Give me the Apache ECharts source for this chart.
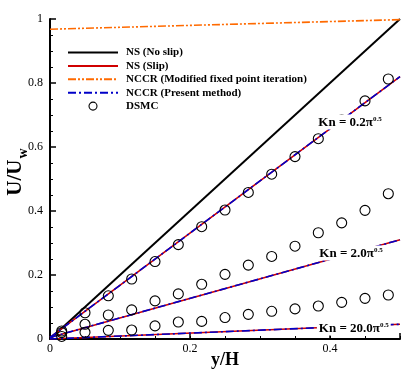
<!DOCTYPE html>
<html>
<head>
<meta charset="utf-8">
<script src="https://cdn.jsdelivr.net/npm/echarts@6/dist/echarts.min.js"></script>
<style>
html,body{margin:0;padding:0;background:#fff;}
#chart{width:415px;height:369px;}
</style>
</head>
<body>
<div id="chart"></div>
<script>
// ---- data ----
const lineX = [0, 0.5];
const nsNoSlip = [0, 1];
const nccrModified = [0.968, 0.998];
const nsSlipKn02 = [0.005, 0.82];
const nsSlipKn2 = [0.005, 0.31];
const nsSlipKn20 = [0.0, 0.046];
const nccrPresentKn02 = [0.005, 0.82];
const nccrPresentKn2 = [0.005, 0.31];
const nccrPresentKn20 = [0.0, 0.046];

const dsmcX = [0.0167, 0.05, 0.0833, 0.1167, 0.15, 0.1833, 0.2167, 0.25, 0.2833, 0.3167, 0.35, 0.3833, 0.4167, 0.45, 0.4833];
const dsmcKn02 = [0.025, 0.082, 0.135, 0.1875, 0.242, 0.295, 0.351, 0.403, 0.458, 0.515, 0.570, 0.626, 0.685, 0.744, 0.8125];
const dsmcKn2 = [0.02, 0.046, 0.075, 0.091, 0.119, 0.141, 0.171, 0.202, 0.231, 0.258, 0.29, 0.332, 0.363, 0.402, 0.454];
const dsmcKn20 = [0.008, 0.021, 0.027, 0.028, 0.041, 0.053, 0.055, 0.067, 0.077, 0.0865, 0.094, 0.103, 0.1146, 0.127, 0.1375];

const knValues = ['0.2', '2.0', '20.0'];
const legendNames = ['NS (No slip)', 'NS (Slip)', 'NCCR (Modified fixed point iteration)', 'NCCR (Present method)', 'DSMC'];
const xTickLabels = ['0', '0.2', '0.4'];

// ---- helpers ----
const pairs = (xs, ys) => xs.map((x, i) => [x, ys[i]]);
const SERIF = '"Liberation Serif", "Times New Roman", serif';

const RED = '#d00000';
const BLUE = '#0000c8';
const ORANGE = '#ff6a00';

function lineSeries(name, ys, color, type, width, z) {
  return {
    name, type: 'line', xAxisIndex: 0, yAxisIndex: 0,
    data: pairs(lineX, ys), symbol: 'none', z: z,
    lineStyle: { color, width, type }, itemStyle: { color },
    animation: false, silent: true
  };
}
function dsmcSeries(ys) {
  return {
    name: 'DSMC', type: 'scatter', data: pairs(dsmcX, ys),
    symbol: 'circle', symbolSize: 10, z: 4,
    itemStyle: { color: 'rgba(0,0,0,0)', borderColor: '#000', borderWidth: 1.1, opacity: 1 },
    animation: false, silent: true
  };
}
const dashDot = [8, 3, 2, 3];
const dashDotDot = [8, 2, 2, 2, 2, 2];

const series = [
  lineSeries('NS (No slip)', nsNoSlip, '#000', 'solid', 2, 2),
  lineSeries('NS (Slip)', nsSlipKn02, RED, 'solid', 1.6, 2),
  lineSeries('NS (Slip)', nsSlipKn2, RED, 'solid', 1.6, 2),
  lineSeries('NS (Slip)', nsSlipKn20, RED, 'solid', 1.6, 2),
  lineSeries('NCCR (Modified fixed point iteration)', nccrModified, ORANGE, dashDotDot, 1.6, 3),
  lineSeries('NCCR (Present method)', nccrPresentKn02, BLUE, dashDot, 1.6, 3),
  lineSeries('NCCR (Present method)', nccrPresentKn2, BLUE, dashDot, 1.6, 3),
  lineSeries('NCCR (Present method)', nccrPresentKn20, BLUE, dashDot, 1.6, 3),
  dsmcSeries(dsmcKn02),
  dsmcSeries(dsmcKn2),
  dsmcSeries(dsmcKn20),
  {
    name: 'KnLabels', type: 'scatter', symbolSize: 0, z: 6,
    itemStyle: { opacity: 1 },
    data: [
      { value: [0.4286, 0.678], kn: knValues[0] },
      { value: [0.4300, 0.269], kn: knValues[1] },
      { value: [0.4340, 0.034], kn: knValues[2] }
    ],
    label: {
      show: true, position: 'inside', opacity: 1,
      backgroundColor: '#fff', padding: [1, 2, 0, 2],
      formatter: p => '{a|Kn = ' + p.data.kn + 'π}{s|0.5}',
      rich: {
        a: { fontFamily: SERIF, fontWeight: 'bold', fontSize: 13, color: '#000', lineHeight: 14 },
        s: { fontFamily: SERIF, fontWeight: 'bold', fontSize: 7, color: '#000', verticalAlign: 'top', lineHeight: 14 }
      }
    },
    animation: false, silent: true
  }
];

const legendData = legendNames.map(n => n === 'DSMC'
  ? { name: n, itemStyle: { opacity: 1, color: 'rgba(0,0,0,0)', borderColor: '#000', borderWidth: 1.1 } }
  : { name: n, itemStyle: { opacity: 0 } });

const chart = echarts.init(document.getElementById('chart'), null, { renderer: 'canvas' });
chart.setOption({
  backgroundColor: '#fff',
  animation: false,
  grid: { left: 50, right: 15, top: 19, bottom: 30, containLabel: false, outerBoundsMode: 'none' },
  legend: {
    data: legendData, orient: 'vertical', left: 67, top: 47, padding: 0,
    itemWidth: 50, itemHeight: 8, itemGap: 2.4,
    selectedMode: false,
    textStyle: { fontFamily: SERIF, fontWeight: 'bold', fontSize: 11, color: '#000', lineHeight: 9, padding: [0, 0, 0, 3] }
  },
  xAxis: [
    {
      type: 'value', min: 0, max: 0.5, interval: 0.05, position: 'bottom',
      axisLine: { show: true, onZero: false, lineStyle: { color: '#000', width: 2 } },
      axisTick: { show: true, inside: true, length: 3, lineStyle: { color: '#000', width: 1 } },
      axisLabel: { show: false }, splitLine: { show: false }
    },
    {
      type: 'value', min: 0, max: 0.5, interval: 0.2, position: 'bottom',
      axisLine: { show: false },
      axisTick: { show: true, inside: true, length: 6, lineStyle: { color: '#000', width: 1.5 } },
      axisLabel: {
        show: true, margin: 4, color: '#000', fontFamily: SERIF, fontSize: 12,
        formatter: v => { const i = xTickLabels.indexOf(String(+v.toFixed(2))); return i >= 0 ? xTickLabels[i] : ''; }
      },
      splitLine: { show: false },
      name: 'y/H', nameLocation: 'middle', nameGap: 12, nameMoveOverlap: false,
      nameTextStyle: { fontFamily: SERIF, fontWeight: 'bold', fontSize: 18, color: '#000', lineHeight: 18 }
    }
  ],
  yAxis: {
    type: 'value', min: 0, max: 1, interval: 0.2,
    axisLine: { show: true, onZero: false, lineStyle: { color: '#000', width: 2 } },
    axisTick: { show: true, inside: true, length: 6, lineStyle: { color: '#000', width: 1.5 } },
    minorTick: { show: true, splitNumber: 4, length: 3, lineStyle: { color: '#000', width: 1 } },
    axisLabel: { margin: 7, color: '#000', fontFamily: SERIF, fontSize: 12, formatter: v => String(+v.toFixed(1)) },
    splitLine: { show: false }, minorSplitLine: { show: false },
    name: '{m|U/U}{w|w}', nameLocation: 'middle', nameGap: 24, nameRotate: 90, nameMoveOverlap: false,
    nameTextStyle: {
      padding: [0, 0, 0, 14],
      rich: {
        m: { fontFamily: SERIF, fontWeight: 'bold', fontSize: 21, color: '#000', lineHeight: 21 },
        w: { fontFamily: SERIF, fontWeight: 'bold', fontSize: 14, color: '#000', verticalAlign: 'bottom', lineHeight: 21, padding: [0, 0, -4, 1] }
      }
    }
  },
  series
});
</script>
</body>
</html>
